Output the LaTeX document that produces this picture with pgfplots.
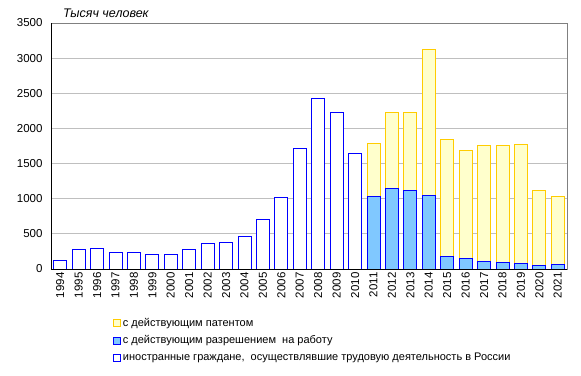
\documentclass[border=0pt]{standalone}
\usepackage{pgfplots}
\pgfplotsset{compat=1.18}
\usepackage{fontspec}
\setmainfont{Liberation Sans}
\definecolor{barblue}{RGB}{0,0,255}
\definecolor{permitfill}{RGB}{128,200,255}
\definecolor{patfill}{RGB}{255,255,204}
\definecolor{patedge}{RGB}{255,204,0}
\begin{document}
\begin{tikzpicture}
\begin{axis}[
  scale only axis, width=516pt, height=246pt,
  xmin=-0.5, xmax=27.5, ymin=0, ymax=3500,
  ytick={0,500,...,3500},
  xtick={0,...,27},
  xticklabels={1994,1995,1996,1997,1998,1999,2000,2001,2002,2003,2004,2005,2006,2007,2008,2009,2010,2011,2012,2013,2014,2015,2016,2017,2018,2019,2020,2021},
  ymajorgrids, grid style={draw=black!25, line width=0.8pt},
  major tick length=0pt,
  axis line style={draw=black!50, line width=0.8pt},
  tick label style={font=\fontsize{11.5}{13}\selectfont},
  /pgf/number format/assume math mode=true,
  /pgf/number format/1000 sep={},
  y tick label style={xshift=-5pt},
  x tick label style={rotate=90, anchor=east},
  ybar, bar width=13pt,
  legend style={at={(axis description cs:0.12,-0.19)}, anchor=north west, draw=none, fill=none,
    font=\fontsize{11}{13}\selectfont, row sep=4pt, inner sep=0pt},
  legend cell align=left,
  legend image code/.code={\draw[#1,/tikz/.cd,line width=0.8pt] (0pt,-3.5pt) rectangle (7pt,3.5pt);},
]
\addplot[bar shift=0pt, draw=patedge, fill=patfill, line width=0.8pt] coordinates {
 (17,1789) (18,2230) (19,2232) (20,3126) (21,1845) (22,1689) (23,1760) (24,1760) (25,1774) (26,1120) (27,1034)};
\addlegendentry{с действующим патентом}
\addplot[bar shift=0pt, draw=barblue, fill=permitfill, line width=0.8pt] coordinates {
 (17,1029) (18,1143) (19,1114) (20,1049) (21,175) (22,152) (23,110) (24,90) (25,81) (26,53) (27,61)};
\addlegendentry{с действующим разрешением\ \ на работу}
\addplot[bar shift=0pt, draw=barblue, fill=white, line width=0.8pt] coordinates {
 (0,129) (1,285) (2,293) (3,242) (4,240) (5,213) (6,213) (7,283) (8,366) (9,378) (10,470) (11,707) (12,1014) (13,1717) (14,2429) (15,2230) (16,1646)};
\addlegendentry{иностранные граждане,\ \ осуществлявшие трудовую деятельность в России}
\draw[black, line width=0.8pt] (rel axis cs:0,1) -- (rel axis cs:0,0) -- (rel axis cs:1,0);
\end{axis}
\node[anchor=base west, font=\itshape\fontsize{12.5}{14}\selectfont, inner sep=0pt] at ([xshift=12pt,yshift=6pt]current axis.north west) {Тысяч человек};
\path[use as bounding box] ([xshift=-51pt,yshift=-106pt]current axis.south west) rectangle ++(581pt,375pt);
\end{tikzpicture}
\end{document}
